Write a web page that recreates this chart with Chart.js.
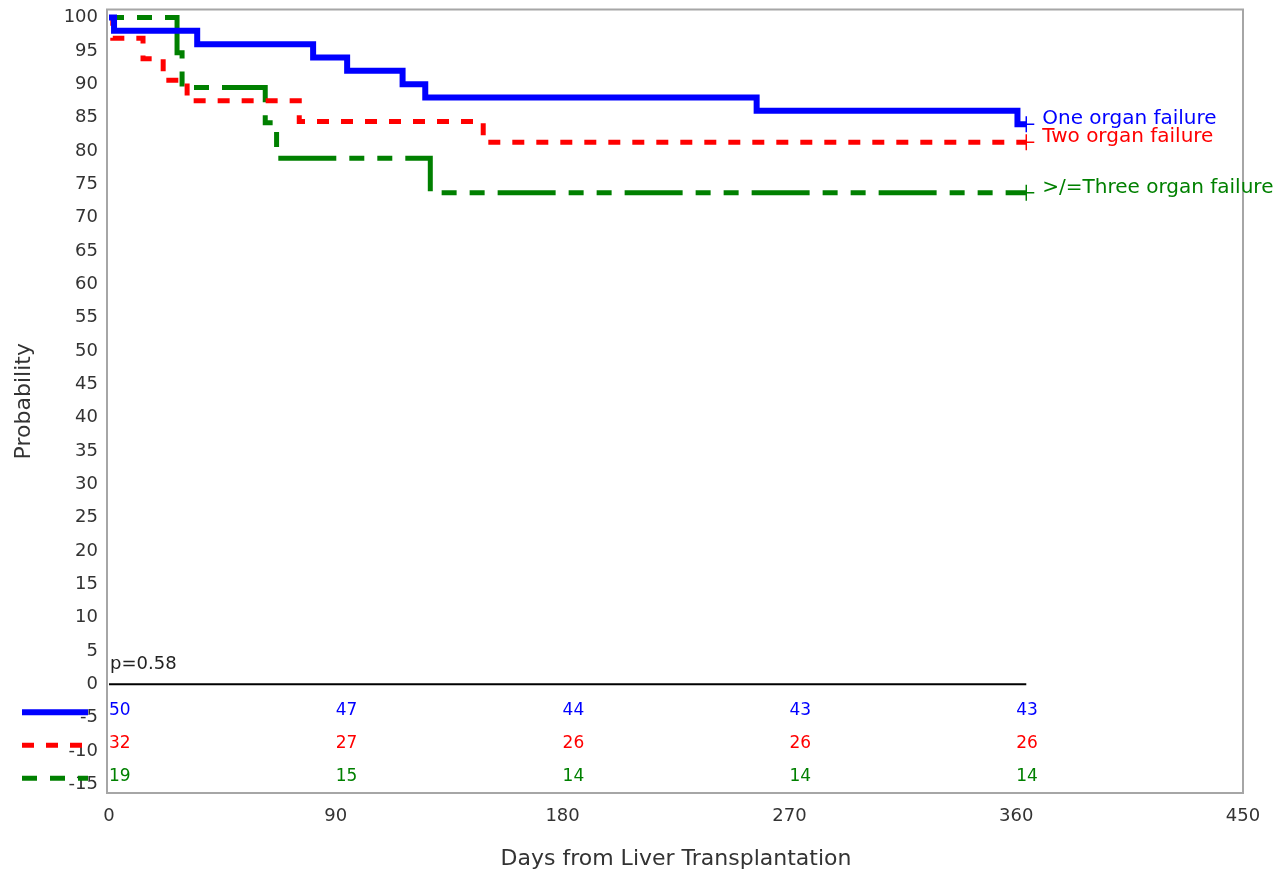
<!DOCTYPE html>
<html lang="en">
<head>
<meta charset="UTF-8">
<title>Survival by Number of Organ Failures</title>
<script src="https://cdn.jsdelivr.net/npm/chart.js"></script>
<style>
  html, body { margin: 0; padding: 0; background: #fff; }
  #wrap { width: 1278px; height: 875px; }
</style>
</head>
<body>
<div id="wrap"><canvas id="kmChart" width="1278" height="875"></canvas></div>
<script>
// curve data (day, survival %)
const groupNames = ['One organ failure', 'Two organ failure', '>/=Three organ failure'];
const groupColors = ['#0000ff', '#ff0000', '#008000'];

const oneTimes = [0, 2, 35, 81, 94.5, 116.5, 125.5, 257, 360.5, 364];
const oneSurv = [100, 98, 96, 94, 92, 90, 88, 86, 84, 84];
const twoTimes = [0, 1.5, 13.5, 21.5, 31, 75.5, 148.5, 364];
const twoSurv = [100, 96.9, 93.8, 90.6, 87.5, 84.4, 81.3, 81.3];
const threeTimes = [0, 27, 29, 62, 66.5, 127.5, 364];
const threeSurv = [100, 94.7, 89.5, 84.2, 78.9, 73.7, 73.7];

// censored marks at end of follow-up
const censorTimes = [364, 364, 364];
const censorSurv = [84, 81.3, 73.7];

// number at risk table
const riskTimes = [0, 90, 180, 270, 360];
const oneRisk = [50, 47, 44, 43, 43];
const twoRisk = [32, 27, 26, 26, 26];
const threeRisk = [19, 15, 14, 14, 14];

const xTicks = [0, 90, 180, 270, 360, 450];
const yTicks = [-15, -10, -5, 0, 5, 10, 15, 20, 25, 30, 35, 40, 45, 50, 55, 60, 65, 70, 75, 80, 85, 90, 95, 100];
const pValueText = 'p=0.58';

const lineWidths = [6, 5, 5];
const lineDashes = [[], [12, 12], [58, 13, 15, 13, 15, 13]];
const dashOffsets = [0, 0, 71];

Chart.defaults.font.family = '"DejaVu Sans", sans-serif';
Chart.defaults.color = '#333';

function toPoints(xs, ys) {
  return xs.map((x, i) => ({ x: x, y: ys[i] }));
}

const curves = [toPoints(oneTimes, oneSurv), toPoints(twoTimes, twoSurv), toPoints(threeTimes, threeSurv)];
const riskRows = [oneRisk, twoRisk, threeRisk];

const datasets = curves.map((pts, i) => ({
  label: groupNames[i],
  data: pts,
  borderColor: groupColors[i],
  borderWidth: lineWidths[i],
  borderDash: lineDashes[i],
  borderDashOffset: dashOffsets[i],
  borderCapStyle: 'butt',
  borderJoinStyle: 'miter',
  stepped: true,
  pointRadius: 0,
  fill: false
}));

censorTimes.forEach((t, i) => {
  datasets.push({
    label: groupNames[i] + ' censored',
    data: [{ x: t, y: censorSurv[i] }],
    showLine: false,
    pointStyle: 'cross',
    pointRadius: 8,
    pointBorderWidth: 1.5,
    borderColor: groupColors[i],
    backgroundColor: groupColors[i]
  });
});

const kmDecor = {
  id: 'kmDecor',
  beforeDatasetsDraw(chart) {
    const { ctx, chartArea } = chart;
    ctx.save();
    ctx.strokeStyle = '#a6a6a6';
    ctx.lineWidth = 2;
    // frame sits a touch left of day 0
    ctx.strokeRect(chartArea.left - 2, chartArea.top, chartArea.right - chartArea.left + 2, chartArea.bottom - chartArea.top);
    ctx.restore();
  },
  afterDatasetsDraw(chart) {
    const { ctx } = chart;
    const xs = chart.scales.x;
    const ys = chart.scales.y;
    const y0 = ys.getPixelForValue(0);
    ctx.save();

    // zero line up to the end of follow-up
    ctx.strokeStyle = '#000';
    ctx.lineWidth = 2;
    ctx.beginPath();
    ctx.moveTo(xs.getPixelForValue(0), y0);
    ctx.lineTo(xs.getPixelForValue(censorTimes[0]), y0);
    ctx.stroke();

    // p value
    ctx.fillStyle = '#222';
    ctx.font = '18px "DejaVu Sans"';
    ctx.textAlign = 'left';
    ctx.textBaseline = 'middle';
    ctx.fillText(pValueText, xs.getPixelForValue(0) + 1, y0 - 20);

    // number at risk rows + left legend lines
    ctx.font = '17px "DejaVu Sans"';
    riskRows.forEach((row, i) => {
      const ry = y0 + 26 + 33 * i;
      ctx.fillStyle = groupColors[i];
      row.forEach((n, j) => {
        ctx.fillText(String(n), xs.getPixelForValue(riskTimes[j]), ry);
      });
      ctx.strokeStyle = groupColors[i];
      ctx.lineWidth = lineWidths[i];
      ctx.setLineDash(lineDashes[i]);
      ctx.lineDashOffset = dashOffsets[i];
      ctx.beginPath();
      ctx.moveTo(22, ry + 2);
      ctx.lineTo(88, ry + 2);
      ctx.stroke();
      ctx.setLineDash([]);
      ctx.lineDashOffset = 0;
    });

    // curve labels on the right
    ctx.font = '20px "DejaVu Sans"';
    censorTimes.forEach((t, i) => {
      ctx.fillStyle = groupColors[i];
      ctx.fillText(groupNames[i], xs.getPixelForValue(t) + 16, ys.getPixelForValue(censorSurv[i]) - 5.5);
    });
    ctx.restore();
  }
};

new Chart(document.getElementById('kmChart'), {
  type: 'line',
  data: { datasets: datasets },
  options: {
    responsive: false,
    animation: false,
    layout: { padding: { top: 9, right: 35, left: 0, bottom: 0 } },
    plugins: {
      legend: { display: false },
      tooltip: { enabled: false }
    },
    scales: {
      x: {
        type: 'linear',
        min: 0,
        max: 450,
        afterBuildTicks: s => { s.ticks = xTicks.map(v => ({ value: v })); },
        afterFit: s => { s.height = 82; },
        grid: { display: false, drawTicks: false },
        border: { display: false },
        ticks: { font: { size: 18 }, color: '#333', padding: 13, maxRotation: 0 },
        title: {
          display: true,
          text: 'Days from Liver Transplantation',
          font: { size: 22 },
          color: '#333',
          padding: { top: 4, bottom: 3 }
        }
      },
      y: {
        type: 'linear',
        min: -16.3,
        max: 101.2,
        afterBuildTicks: s => { s.ticks = yTicks.map(v => ({ value: v })); },
        afterFit: s => { s.width = 109; s.paddingTop = 0; s.paddingBottom = 0; },
        grid: { display: false, drawTicks: false },
        border: { display: false },
        ticks: { font: { size: 18 }, color: '#333', padding: 11 },
        title: {
          display: true,
          text: 'Probability',
          font: { size: 22 },
          color: '#333',
          padding: { top: 11, bottom: 4 }
        }
      }
    }
  },
  plugins: [kmDecor]
});
</script>
</body>
</html>
